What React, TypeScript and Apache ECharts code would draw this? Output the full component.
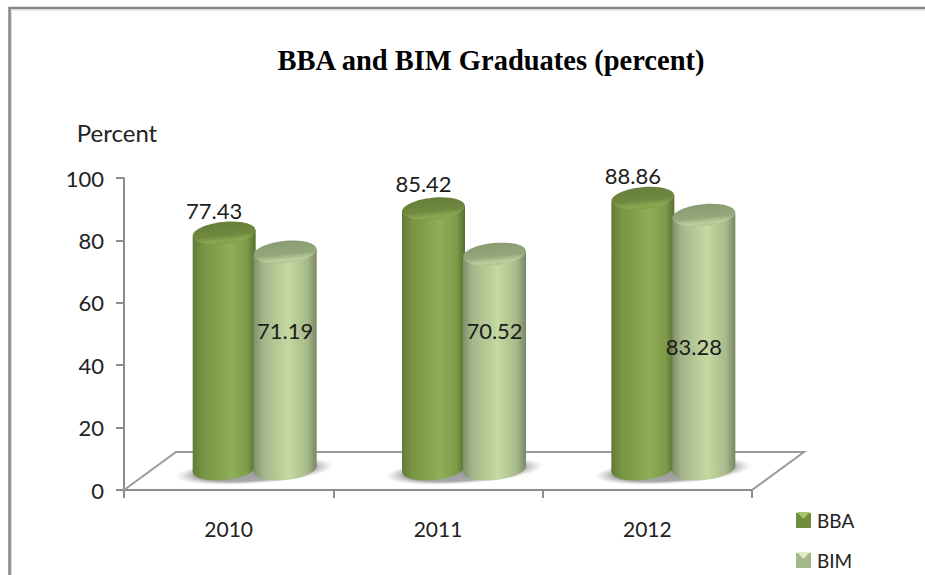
import React, { useEffect, useRef } from "react";
import * as echarts from "echarts";

const years = ["2010", "2011", "2012"];
const bbaValues = [77.43, 85.42, 88.86];
const bimValues = [71.19, 70.52, 83.28];
// Gap between each BBA label and its cylinder's cap.
const bbaLabelGaps = [22.5, 25, 22.5];
// Heights on the value scale at which the BIM labels sit, and their sideways shift.
const bimLabelLevels = [51, 51, 46];
const bimLabelShift = [0, 0, -10];

const UI_FONT = 'Lato, "Noto Sans", sans-serif';
const DEPTH_X = 26;
const DEPTH_Y = -19;
const CYLINDER_LIFT = -21;
const RADIUS_X = 31.5;
const RADIUS_Y = 11;
const TILT = 0.1;
const TILT_DROP = 3;
const HEIGHT_RATIO = 0.977;

const hGrad = (stops: [number, string][]) =>
  new echarts.graphic.LinearGradient(0, 0, 1, 0, stops.map(([offset, color]) => ({ offset, color })));
const vGrad = (stops: [number, string][]) =>
  new echarts.graphic.LinearGradient(0, 0, 0, 1, stops.map(([offset, color]) => ({ offset, color })));

const bbaPaint = {
  body: () => hGrad([[0, "#627c39"], [0.16, "#789444"], [0.6, "#90ad57"], [0.86, "#7f9b4a"], [1, "#576f30"]]),
  cap: () => vGrad([[0, "#667f3a"], [0.6, "#70893f"], [0.86, "#8ba852"], [1, "#7f9b4a"]]),
};
const bimPaint = {
  body: () => hGrad([[0, "#808f6b"], [0.15, "#a4b68a"], [0.55, "#c5d9a1"], [0.85, "#a8ba8c"], [1, "#788762"]]),
  cap: () => vGrad([[0, "#8a9b72"], [0.6, "#94a77b"], [0.86, "#bdcf9b"], [1, "#adc08f"]]),
};

// One standing cylinder, with its value label on top of the group.
function cylinderRenderer(
  paint: typeof bbaPaint,
  side: number,
  labelAt: (i: number, capY: number, cx: number) => [number, number],
) {
  return (params: any, api: any) => {
    const i = api.value(0);
    const value = api.value(1);
    const base = api.coord([i, 0]);
    const cx = base[0] + DEPTH_X + side;
    const baseY = base[1] + CYLINDER_LIFT;
    const capY = baseY - api.size([0, value])[1] * HEIGHT_RATIO;
    const [labelX, labelY] = labelAt(i, capY, cx);
    return {
      type: "group",
      children: [
        {
          type: "ellipse",
          x: cx,
          y: baseY,
          rotation: TILT,
          shape: { cx: 0, cy: 0, rx: RADIUS_X, ry: RADIUS_Y },
          style: { fill: paint.body() },
        },
        {
          type: "polygon",
          shape: {
            points: [
              [cx - RADIUS_X, capY + TILT_DROP],
              [cx + RADIUS_X, capY - TILT_DROP],
              [cx + RADIUS_X, baseY - TILT_DROP],
              [cx - RADIUS_X, baseY + TILT_DROP],
            ],
          },
          style: { fill: paint.body() },
        },
        {
          type: "ellipse",
          x: cx,
          y: capY,
          rotation: TILT,
          shape: { cx: 0, cy: 0, rx: RADIUS_X, ry: RADIUS_Y },
          style: { fill: paint.cap() },
        },
        {
          type: "text",
          style: {
            text: value.toFixed(2),
            x: labelX,
            y: labelY,
            align: "center",
            verticalAlign: "middle",
            fill: "#1c1c1c",
            font: `22px ${UI_FONT}`,
          },
        },
      ],
    };
  };
}

// The soft pool of shade under each pair of cylinders.
function renderShadow(params: any, api: any) {
  const base = api.coord([api.value(0), 0]);
  return {
    type: "ellipse",
    x: base[0] + DEPTH_X,
    y: base[1] + DEPTH_Y,
    rotation: 0.07,
    shape: { cx: 0, cy: 0, rx: 80, ry: 13 },
    style: {
      fill: new echarts.graphic.RadialGradient(0.5, 0.5, 0.5, [
        { offset: 0, color: "#9a9a9a" },
        { offset: 0.75, color: "#a8a8a8" },
        { offset: 1, color: "rgba(215,215,215,0)" },
      ]),
    },
  };
}

// Floor of the 3D plot: the back edge and both receding sides.
function renderFloor(params: any) {
  const { x, y, width } = params.coordSys;
  const bottom = y + params.coordSys.height;
  const depthX = DEPTH_X * 2;
  const depthY = DEPTH_Y * 2;
  return {
    type: "polyline",
    shape: {
      points: [
        [x, bottom],
        [x + depthX, bottom + depthY],
        [x + width + depthX, bottom + depthY],
        [x + width, bottom],
      ],
    },
    style: { fill: "none", stroke: "#9a9a9a", lineWidth: 2 },
  };
}

export default function App() {
  const ref = useRef<HTMLDivElement>(null);

  useEffect(() => {
    const chart = echarts.init(ref.current!, undefined, { renderer: "svg" });
    const axisLine = { show: true, lineStyle: { color: "#8c8c8c", width: 2 } };
    const axisTick = { show: true, length: 8, lineStyle: { color: "#8c8c8c", width: 2 } };
    const bevel = (x: number, y: number, color: string) => ({
      type: "polygon",
      shape: { points: [[x + 1, y + 1], [x + 14, y + 1], [x + 7.5, y + 8]] },
      style: { fill: color },
      silent: true,
      z: 20,
    });

    chart.setOption({
      animation: false,
      backgroundColor: "#ffffff",
      title: {
        text: "BBA and BIM Graduates (percent)",
        left: 486,
        top: 41,
        textAlign: "center",
        textStyle: {
          fontFamily: '"Liberation Serif", serif',
          fontSize: 28.5,
          fontWeight: "bold",
          color: "#000000",
        },
      },
      legend: {
        orient: "vertical",
        left: 796,
        top: 511,
        height: 64,
        padding: 0,
        itemWidth: 15,
        itemHeight: 15,
        itemGap: 21,
        textStyle: { fontFamily: UI_FONT, fontSize: 19, color: "#222222", padding: [0, 0, 0, 1] },
        data: [
          { name: "BBA", icon: "rect", itemStyle: { color: "#6f8d3e" } },
          { name: "BIM", icon: "rect", itemStyle: { color: "#a4b78a" } },
        ],
      },
      grid: { left: 124, right: 173, top: 178, bottom: 85 },
      xAxis: {
        type: "category",
        data: years,
        axisLine,
        axisTick: { ...axisTick, alignWithLabel: false },
        axisLabel: { margin: 28, color: "#222222", fontFamily: UI_FONT, fontSize: 21 },
      },
      yAxis: {
        type: "value",
        min: 0,
        max: 100,
        interval: 20,
        name: "Percent",
        nameLocation: "end",
        nameGap: 34,
        nameTextStyle: { color: "#222222", fontFamily: UI_FONT, fontSize: 24, padding: [0, 14, 0, 0] },
        axisLine,
        axisTick,
        splitLine: { show: false },
        axisLabel: { margin: 20, color: "#222222", fontFamily: UI_FONT, fontSize: 22 },
      },
      graphic: [
        {
          type: "polyline",
          shape: { points: [[9.5, 575], [9.5, 8], [925, 8]] },
          style: { fill: "none", stroke: "#858585", lineWidth: 2.5 },
          silent: true,
        },
        {
          type: "polyline",
          shape: { points: [[11.5, 575], [11.5, 10], [925, 10]] },
          style: { fill: "none", stroke: "#d4d4d4", lineWidth: 1 },
          silent: true,
        },
        bevel(796, 511, "#a9c66c"),
        bevel(796, 551, "#dfeac6"),
      ],
      series: [
        {
          type: "custom",
          name: "floor",
          coordinateSystem: "cartesian2d",
          renderItem: renderFloor,
          data: [[0, 0]],
          silent: true,
          z: 1,
        },
        {
          type: "custom",
          name: "shade",
          coordinateSystem: "cartesian2d",
          renderItem: renderShadow,
          data: years.map((_, i) => [i, 0]),
          silent: true,
          z: 2,
        },
        {
          type: "custom",
          name: "BBA",
          coordinateSystem: "cartesian2d",
          renderItem: cylinderRenderer(bbaPaint, -30.5, (i, capY, cx) => [cx - 10, capY - bbaLabelGaps[i]]),
          data: bbaValues.map((v, i) => [i, v]),
          encode: { x: 0, y: 1 },
          itemStyle: { color: "#6f8d3e" },
          clip: false,
          z: 3,
        },
        {
          type: "custom",
          name: "BIM",
          coordinateSystem: "cartesian2d",
          renderItem: (params: any, api: any) =>
            cylinderRenderer(bimPaint, 30.5, (i, _capY, cx) => [
              cx + bimLabelShift[i],
              api.coord([i, bimLabelLevels[i]])[1],
            ])(params, api),
          data: bimValues.map((v, i) => [i, v]),
          encode: { x: 0, y: 1 },
          itemStyle: { color: "#a4b78a" },
          clip: false,
          z: 4,
        },
      ],
    });

    return () => chart.dispose();
  }, []);

  return (
    <div
      ref={ref}
      style={{ position: "fixed", left: 0, top: 0, width: 925, height: 575, background: "#fff" }}
    />
  );
}
